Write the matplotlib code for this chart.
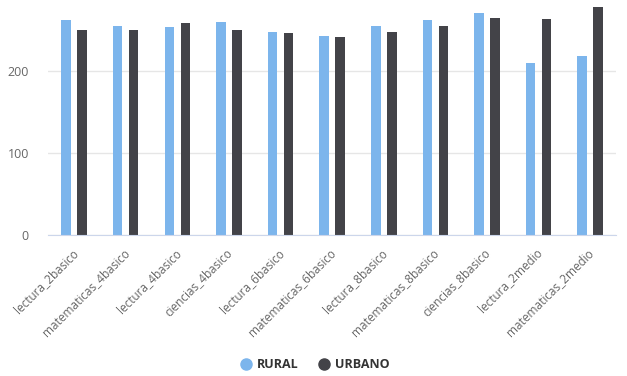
import matplotlib
matplotlib.use("Agg")
import matplotlib.pyplot as plt
from matplotlib.lines import Line2D
import matplotlib.transforms as mtransforms
import numpy as np

categories = ["lectura_2basico", "matematicas_4basico", "lectura_4basico", "ciencias_4basico",
              "lectura_6basico", "matematicas_6basico", "lectura_8basico", "matematicas_8basico",
              "ciencias_8basico", "lectura_2medio", "matematicas_2medio"]
rural = [262, 255, 254, 260, 248, 243, 255, 262, 271, 210, 218]
urbano = [250, 250, 259, 250, 246, 242, 248, 255, 265, 263, 278]
yticks = [0, 100, 200]

c_rural = "#7cb5ec"
c_urbano = "#434348"
font = "Open Sans"
plt.rcParams['font.family'] = [font, 'DejaVu Sans']

fig = plt.figure(figsize=(6.27, 3.76), dpi=100)
W, H = 627, 376
ax = fig.add_axes([48.3 / W, 1 - 235 / H, (616 - 48.3) / W, 235 / H])

x = np.arange(len(categories))
bw = 0.185
off = 0.155
ax.bar(x - off, rural, width=bw, color=c_rural, zorder=3)
ax.bar(x + off, urbano, width=bw, color=c_urbano, zorder=3)

ax.set_xlim(-0.5, len(categories) - 0.5)
ax.set_ylim(0, 235 / 0.82)
ax.set_yticks(yticks)
ax.set_yticklabels([str(v) for v in yticks], fontsize=9, color="#666666")
ax.yaxis.grid(True, color="#e6e6e6", linewidth=1, zorder=0)
ax.tick_params(axis="y", length=0, pad=14)
ax.tick_params(axis="x", length=0, pad=8)
for s in ["top", "right", "left"]:
    ax.spines[s].set_visible(False)
ax.spines["bottom"].set_color("#ccd6eb")
ax.spines["bottom"].set_zorder(4)

ax.set_xticks(x)
ax.set_xticklabels(categories, rotation=45, ha="right", rotation_mode="anchor",
                   fontsize=8.5, color="#666666")
shift = mtransforms.ScaledTranslation(-3 / 100, 0, fig.dpi_scale_trans)
for lbl in ax.get_xticklabels():
    lbl.set_transform(lbl.get_transform() + shift)

handles = [Line2D([0], [0], marker="o", linestyle="", markersize=8, color=c_rural),
           Line2D([0], [0], marker="o", linestyle="", markersize=8, color=c_urbano)]
leg = fig.legend(handles, ["RURAL", "URBANO"], loc="center", bbox_to_anchor=(313 / W, 1 - 365 / H),
                 ncol=2, frameon=False, handletextpad=0.1, columnspacing=1.3, handlelength=1.5,
                 prop={"family": font, "weight": "bold", "size": 9})
for t in leg.get_texts():
    t.set_color("#333333")

fig.savefig("out.png", dpi=100)
